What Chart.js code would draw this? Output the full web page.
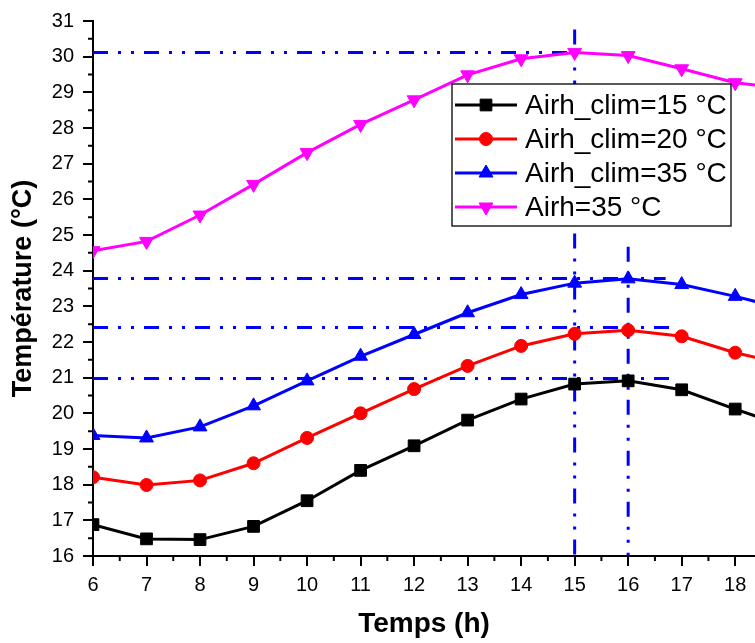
<!DOCTYPE html>
<html>
<head>
<meta charset="utf-8">
<script src="https://cdn.jsdelivr.net/npm/chart.js"></script>
<style>
  html, body { margin: 0; padding: 0; background: #fff; }
  #wrap { width: 755px; height: 643px; }
</style>
</head>
<body>
<div id="wrap"><canvas id="myChart" width="755" height="643"></canvas></div>
<script>
// data
const hours = [6, 7, 8, 9, 10, 11, 12, 13, 14, 15, 16, 17, 18, 19];
const airhClim15 = [16.88, 16.48, 16.46, 16.83, 17.55, 18.40, 19.09, 19.81, 20.40, 20.82, 20.91, 20.66, 20.12, 19.60];
const airhClim20 = [18.21, 17.99, 18.12, 18.60, 19.31, 20.00, 20.68, 21.33, 21.89, 22.23, 22.33, 22.16, 21.70, 21.35];
const airhClim35 = [19.38, 19.31, 19.62, 20.21, 20.91, 21.60, 22.21, 22.82, 23.33, 23.65, 23.77, 23.61, 23.28, 22.90];
const airh35 = [24.56, 24.82, 25.56, 26.42, 27.31, 28.10, 28.79, 29.49, 29.94, 30.12, 30.03, 29.66, 29.27, 29.10];

const seriesLabels = ['Airh_clim=15 °C', 'Airh_clim=20 °C', 'Airh_clim=35 °C', 'Airh=35 °C'];

// dash-dot-dot guide lines
const refHY = [30.12, 23.78, 22.41, 20.98];
const refHEnd = [15, 16.7, 16.8, 16.8];
const refVX = [15, 16];
const refVTop = [30.76, 24.67];

const xMin = 6, xMax = 18.37;
const yMin = 16, yMax = 31;

const fontFam = 'Arial, "Liberation Sans", sans-serif';
const dashPat = [15, 10, 3, 10, 3, 10];

Chart.defaults.font.family = fontFam;
Chart.defaults.color = '#000';

function toPts(ys) {
  return hours.map((h, i) => ({x: h, y: ys[i]}));
}

function serie(label, ys, color, style, radius, rot) {
  return {
    label: label,
    data: toPts(ys),
    borderColor: color,
    backgroundColor: color,
    borderWidth: 3,
    pointStyle: style,
    pointRadius: radius,
    pointRotation: rot || 0,
    pointBorderWidth: 1,
    tension: 0,
    isSerie: true
  };
}

let datasets = [
  serie(seriesLabels[0], airhClim15, '#000000', 'rect', 8.3),
  serie(seriesLabels[1], airhClim20, '#ff0000', 'circle', 6.5),
  serie(seriesLabels[2], airhClim35, '#0000ff', 'triangle', 8),
  serie(seriesLabels[3], airh35, '#ff00ff', 'triangle', 8, 180)
];

for (let i = 0; i < refHY.length; i++) {
  datasets.push({
    label: 'refH' + i,
    data: [{x: xMin, y: refHY[i]}, {x: refHEnd[i], y: refHY[i]}],
    borderColor: '#0000ff',
    borderWidth: 3,
    borderDash: dashPat,
    pointRadius: 0,
    order: 1
  });
}
for (let i = 0; i < refVX.length; i++) {
  datasets.push({
    label: 'refV' + i,
    data: [{x: refVX[i], y: refVTop[i]}, {x: refVX[i], y: yMin}],
    borderColor: '#0000ff',
    borderWidth: 3,
    borderDash: dashPat,
    pointRadius: 0,
    order: 1
  });
}

function drawMarker(ctx, style, x, y, r, rot) {
  ctx.beginPath();
  if (style === 'rect') {
    let s = Math.SQRT1_2 * r;
    ctx.rect(x - s, y - s, 2 * s, 2 * s);
  } else if (style === 'circle') {
    ctx.arc(x, y, r, 0, Math.PI * 2);
  } else {
    let a = (rot || 0) * Math.PI / 180;
    for (let k = 0; k < 3; k++) {
      let px = x + Math.sin(a) * r;
      let py = y - Math.cos(a) * r;
      if (k === 0) ctx.moveTo(px, py); else ctx.lineTo(px, py);
      a += Math.PI * 2 / 3;
    }
    ctx.closePath();
  }
  ctx.fill();
  ctx.stroke();
}

// minor ticks + boxed legend with line/marker samples
const extras = {
  id: 'extras',
  afterDraw(chart) {
    const ctx = chart.ctx;
    const xs = chart.scales.x, ys = chart.scales.y;
    ctx.save();
    ctx.strokeStyle = '#000';
    ctx.lineWidth = 2;
    ctx.beginPath();
    for (let v = xMin + 0.5; v < xMax; v += 1) {
      let px = xs.getPixelForValue(v);
      ctx.moveTo(px, xs.top);
      ctx.lineTo(px, xs.top + 5);
    }
    for (let v = yMin + 0.5; v < yMax; v += 1) {
      let py = ys.getPixelForValue(v);
      ctx.moveTo(ys.right - 5, py);
      ctx.lineTo(ys.right, py);
    }
    ctx.stroke();

    // legend
    const bx = 452, by = 84, bw = 279, bh = 142;
    ctx.fillStyle = '#fff';
    ctx.fillRect(bx, by, bw, bh);
    ctx.lineWidth = 1.3;
    ctx.strokeStyle = '#000';
    ctx.strokeRect(bx, by, bw, bh);
    let rowY = by + 21;
    chart.data.datasets.forEach(ds => {
      if (!ds.isSerie) return;
      ctx.strokeStyle = ds.borderColor;
      ctx.fillStyle = ds.backgroundColor;
      ctx.lineWidth = 3;
      ctx.beginPath();
      ctx.moveTo(bx + 3, rowY);
      ctx.lineTo(bx + 65, rowY);
      ctx.stroke();
      ctx.lineWidth = 1;
      drawMarker(ctx, ds.pointStyle, bx + 34, rowY, ds.pointRadius, ds.pointRotation);
      ctx.fillStyle = '#000';
      ctx.font = '28px ' + fontFam;
      ctx.textBaseline = 'middle';
      ctx.textAlign = 'left';
      ctx.fillText(ds.label, bx + 73, rowY + 1);
      rowY += 34;
    });
    ctx.restore();
  }
};

const ctx = document.getElementById('myChart');
new Chart(ctx, {
  type: 'line',
  data: { datasets: datasets },
  options: {
    responsive: false,
    animation: false,
    layout: { autoPadding: false, padding: { top: 19, left: 0, right: 0, bottom: 0 } },
    plugins: {
      legend: { display: false },
      tooltip: { enabled: false }
    },
    scales: {
      x: {
        type: 'linear',
        min: xMin,
        max: xMax,
        afterBuildTicks: s => { s.ticks = s.ticks.filter(t => Number.isInteger(t.value)); },
        afterFit: s => { s.height = 87; s.paddingLeft = 0; s.paddingRight = 0; },
        ticks: { stepSize: 1, includeBounds: false, autoSkip: false, maxRotation: 0, padding: 7, font: { size: 20 } },
        grid: { drawOnChartArea: false, color: '#000', lineWidth: 2, tickLength: 10 },
        border: { color: '#000', width: 2 },
        title: { display: true, text: 'Temps (h)', font: { size: 28, weight: 'bold' }, padding: { top: 0, bottom: 2 } }
      },
      y: {
        type: 'linear',
        min: yMin,
        max: yMax,
        afterFit: s => { s.width = 93; },
        ticks: { stepSize: 1, autoSkip: false, padding: 9, font: { size: 20 } },
        grid: { drawOnChartArea: false, color: '#000', lineWidth: 2, tickLength: 10 },
        border: { color: '#000', width: 2 },
        title: { display: true, text: 'Température (°C)', font: { size: 27, weight: 'bold' }, padding: { top: 7, bottom: 0 } }
      }
    }
  },
  plugins: [extras]
});
</script>
</body>
</html>
